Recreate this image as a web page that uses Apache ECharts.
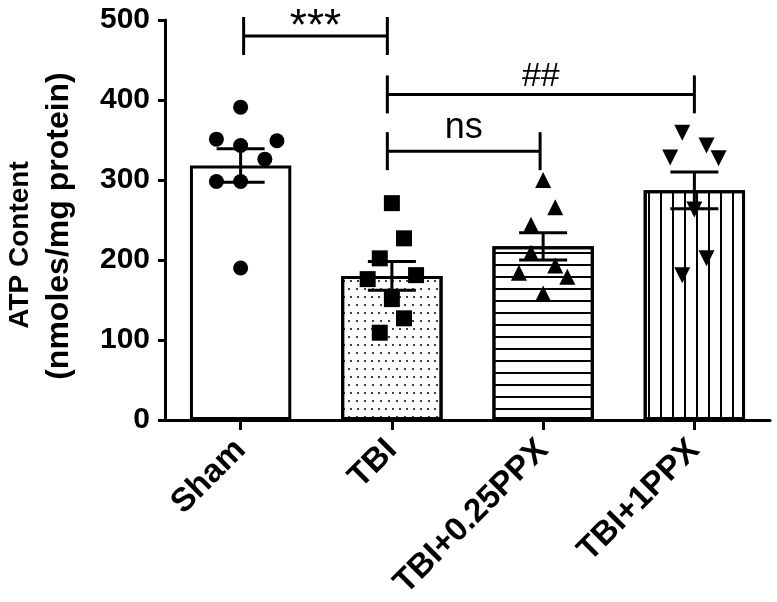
<!DOCTYPE html>
<html>
<head>
<meta charset="utf-8">
<script src="https://cdn.jsdelivr.net/npm/echarts@6/dist/echarts.min.js"></script>
<style>
  html, body { margin: 0; padding: 0; background: #fff; }
  #chart { width: 777px; height: 602px; }
</style>
</head>
<body>
<div id="chart"></div>
<script>
// groups and summary values (mean, SEM)
const categories = ['Sham', 'TBI', 'TBI+0.25PPX', 'TBI+1PPX'];
const means = [318, 180, 217, 287];
const sems = [21, 18, 17, 23];
const yTicks = [0, 100, 200, 300, 400, 500];

// individual animals, with horizontal jitter in category units
const shamValues = [391, 351, 343, 349, 326, 298, 298, 190];
const shamJitter = [0, -0.16, 0, 0.24, 0.16, -0.16, 0, 0];
const tbiValues = [271, 227, 202, 176, 181, 151, 127, 109];
const tbiJitter = [0, 0.08, -0.08, -0.16, 0.16, 0, 0.08, -0.08];
const ppx025Values = [300, 266, 244, 209, 193, 184, 179, 158];
const ppx025Jitter = [0, 0.08, -0.08, -0.08, 0.08, -0.16, 0.16, 0];
const ppx1Values = [359, 343, 328, 327, 263, 202, 181];
const ppx1Jitter = [-0.08, 0.08, -0.16, 0.16, 0, 0.08, -0.08];

// significance brackets
const bracketFrom = [0.02, 0.97, 0.97];
const bracketTo = [0.97, 3, 1.98];
const bracketY = [480, 407, 336];
const bracketLabels = ['***', '##', 'ns'];

const FONT = '"Liberation Sans", Arial, sans-serif';

// size and vertical shift (px from the bracket line) of each bracket label
const labelLook = {
  '***': { size: 44, dy: -8 },
  '##': { size: 34, dy: -18 },
  'ns': { size: 36, dy: -23 }
};

const chart = echarts.init(document.getElementById('chart'), null, { renderer: 'canvas' });

const patterns = [
  null,
  { symbol: 'circle', symbolSize: 1, dashArrayX: [[2, 5], [0, 3.5, 2, 1.5]], dashArrayY: [2, 6], color: '#000' },
  { symbol: 'rect', symbolSize: 1, dashArrayX: [[12, 0]], dashArrayY: [2, 10], color: '#000' },
  { symbol: 'rect', symbolSize: 1, dashArrayX: [2, 10], dashArrayY: [12, 0], color: '#000' }
];

const pointSets = [
  { values: shamValues, jitter: shamJitter, symbol: 'circle', size: 15, rotate: 0 },
  { values: tbiValues, jitter: tbiJitter, symbol: 'rect', size: 16, rotate: 0 },
  { values: ppx025Values, jitter: ppx025Jitter, symbol: 'triangle', size: 16, rotate: 0 },
  { values: ppx1Values, jitter: ppx1Jitter, symbol: 'triangle', size: 16, rotate: 180 }
];

const series = [];

series.push({
  type: 'bar',
  xAxisIndex: 0,
  yAxisIndex: 0,
  barWidth: '67%',
  silent: true,
  itemStyle: { color: '#fff', borderColor: '#000', borderWidth: 3 },
  data: means.map((v, i) => {
    const d = { value: v };
    if (patterns[i]) d.itemStyle = { decal: patterns[i] };
    return d;
  }),
  z: 1
});

pointSets.forEach((g, i) => {
  series.push({
    type: 'scatter',
    xAxisIndex: 1,
    yAxisIndex: 0,
    symbol: g.symbol,
    symbolSize: g.size,
    symbolRotate: g.rotate,
    silent: true,
    itemStyle: { color: '#000', opacity: 1 },
    data: g.values.map((v, k) => [i + g.jitter[k], v]),
    z: 3
  });
});

// mean +/- SEM
series.push({
  type: 'custom',
  xAxisIndex: 1,
  yAxisIndex: 0,
  silent: true,
  z: 4,
  data: means.map((m, i) => [i, m, sems[i]]),
  renderItem: function (params, api) {
    const x = api.value(0), m = api.value(1), s = api.value(2);
    const top = api.coord([x, m + s]);
    const bot = api.coord([x, m - s]);
    const hw = 24;
    const st = { stroke: '#000', lineWidth: 3 };
    return {
      type: 'group',
      children: [
        { type: 'line', shape: { x1: top[0], y1: top[1], x2: bot[0], y2: bot[1] }, style: st },
        { type: 'line', shape: { x1: top[0] - hw, y1: top[1], x2: top[0] + hw, y2: top[1] }, style: st },
        { type: 'line', shape: { x1: bot[0] - hw, y1: bot[1], x2: bot[0] + hw, y2: bot[1] }, style: st }
      ]
    };
  }
});

// brackets
series.push({
  type: 'custom',
  xAxisIndex: 1,
  yAxisIndex: 0,
  silent: true,
  clip: false,
  z: 5,
  data: bracketY.map((y, i) => [bracketFrom[i], bracketTo[i], y, i]),
  renderItem: function (params, api) {
    const a = api.coord([api.value(0), api.value(2)]);
    const b = api.coord([api.value(1), api.value(2)]);
    const label = bracketLabels[api.value(3)];
    const look = labelLook[label];
    const h = 19;
    const st = { stroke: '#000', lineWidth: 3 };
    return {
      type: 'group',
      children: [
        { type: 'line', shape: { x1: a[0], y1: a[1], x2: b[0], y2: b[1] }, style: st },
        { type: 'line', shape: { x1: a[0], y1: a[1] - h, x2: a[0], y2: a[1] + h }, style: st },
        { type: 'line', shape: { x1: b[0], y1: b[1] - h, x2: b[0], y2: b[1] + h }, style: st },
        {
          type: 'text',
          x: (a[0] + b[0]) / 2,
          y: a[1] + look.dy,
          style: {
            text: label,
            fill: '#000',
            font: look.size + 'px ' + FONT,
            textAlign: 'center',
            textVerticalAlign: 'middle'
          }
        }
      ]
    };
  }
});

const option = {
  animation: false,
  backgroundColor: '#fff',
  grid: { left: 165, right: 7, top: 20, bottom: 181, containLabel: false },
  xAxis: [
    {
      type: 'category',
      data: categories,
      axisLine: { show: true, lineStyle: { color: '#000', width: 3 } },
      axisTick: { show: true, alignWithLabel: true, length: 10, lineStyle: { color: '#000', width: 3 } },
      axisLabel: {
        rotate: 45,
        margin: 25,
        color: '#000',
        fontFamily: FONT,
        fontWeight: 'bold',
        fontSize: 33
      }
    },
    { type: 'value', min: -0.5, max: 3.5, show: false }
  ],
  yAxis: {
    type: 'value',
    min: yTicks[0],
    max: yTicks[yTicks.length - 1],
    interval: yTicks[1] - yTicks[0],
    axisLine: { show: true, onZero: false, lineStyle: { color: '#000', width: 3 } },
    axisTick: { show: true, length: 7, lineStyle: { color: '#000', width: 3 } },
    splitLine: { show: false },
    axisLabel: {
      margin: 15,
      color: '#000',
      fontFamily: FONT,
      fontWeight: 'bold',
      fontSize: 30
    }
  },
  graphic: [
    {
      type: 'text', x: 20, y: 245, rotation: Math.PI / 2,
      style: { text: 'ATP Content', font: 'bold 28px ' + FONT, fill: '#000', textAlign: 'center', textVerticalAlign: 'middle' }
    },
    {
      type: 'text', x: 59, y: 226, rotation: Math.PI / 2,
      style: { text: '(nmoles/mg protein)', font: 'bold 32px ' + FONT, fill: '#000', textAlign: 'center', textVerticalAlign: 'middle' }
    }
  ],
  series: series
};

chart.setOption(option);
</script>
</body>
</html>
